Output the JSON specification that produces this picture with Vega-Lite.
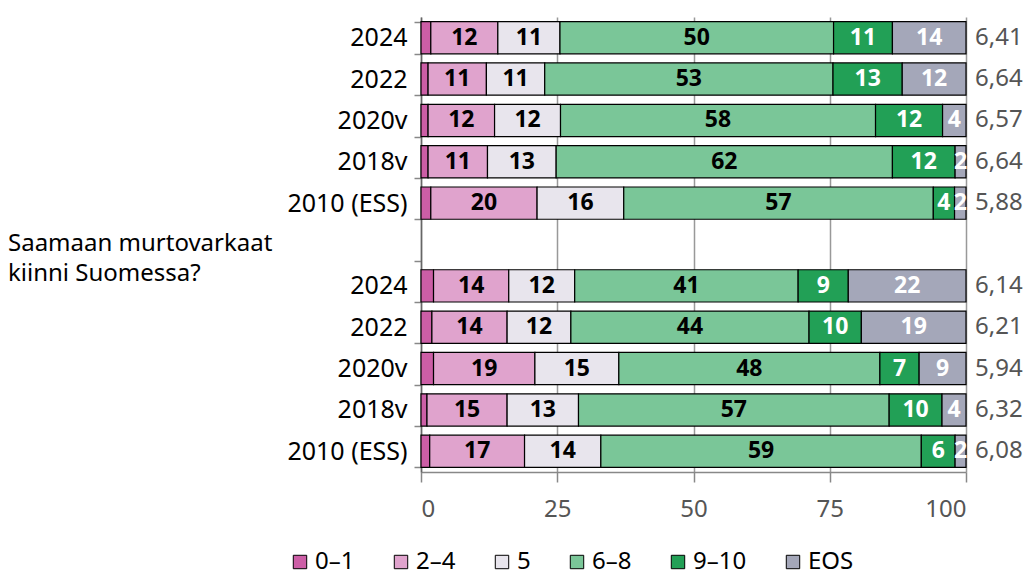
{
  "$schema": "https://vega.github.io/schema/vega-lite/v6.json",
  "width": 545,
  "height": 455,
  "autosize": {"type": "none"},
  "padding": {"left": 421, "top": 17, "right": 69, "bottom": 103},
  "background": "white",
  "config": {
    "font": "Noto Sans",
    "view": {"stroke": null}
  },
  "datasets": {
    "bars": [
      {"row": "1|2024", "cat": "0–1", "v": 1.8},
      {"row": "1|2024", "cat": "2–4", "v": 12.3},
      {"row": "1|2024", "cat": "5", "v": 11.4},
      {"row": "1|2024", "cat": "6–8", "v": 50.2},
      {"row": "1|2024", "cat": "9–10", "v": 10.8},
      {"row": "1|2024", "cat": "EOS", "v": 13.5},
      {"row": "1|2022", "cat": "0–1", "v": 1.3},
      {"row": "1|2022", "cat": "2–4", "v": 10.7},
      {"row": "1|2022", "cat": "5", "v": 10.7},
      {"row": "1|2022", "cat": "6–8", "v": 52.9},
      {"row": "1|2022", "cat": "9–10", "v": 12.7},
      {"row": "1|2022", "cat": "EOS", "v": 11.7},
      {"row": "1|2020v", "cat": "0–1", "v": 1.3},
      {"row": "1|2020v", "cat": "2–4", "v": 12.2},
      {"row": "1|2020v", "cat": "5", "v": 12.1},
      {"row": "1|2020v", "cat": "6–8", "v": 57.8},
      {"row": "1|2020v", "cat": "9–10", "v": 12.3},
      {"row": "1|2020v", "cat": "EOS", "v": 4.3},
      {"row": "1|2018v", "cat": "0–1", "v": 1.3},
      {"row": "1|2018v", "cat": "2–4", "v": 10.9},
      {"row": "1|2018v", "cat": "5", "v": 12.6},
      {"row": "1|2018v", "cat": "6–8", "v": 61.7},
      {"row": "1|2018v", "cat": "9–10", "v": 11.5},
      {"row": "1|2018v", "cat": "EOS", "v": 2.0},
      {"row": "1|2010 (ESS)", "cat": "0–1", "v": 1.8},
      {"row": "1|2010 (ESS)", "cat": "2–4", "v": 19.5},
      {"row": "1|2010 (ESS)", "cat": "5", "v": 15.9},
      {"row": "1|2010 (ESS)", "cat": "6–8", "v": 56.8},
      {"row": "1|2010 (ESS)", "cat": "9–10", "v": 3.9},
      {"row": "1|2010 (ESS)", "cat": "EOS", "v": 2.1},
      {"row": "2|2024", "cat": "0–1", "v": 2.3},
      {"row": "2|2024", "cat": "2–4", "v": 13.8},
      {"row": "2|2024", "cat": "5", "v": 12.1},
      {"row": "2|2024", "cat": "6–8", "v": 41.0},
      {"row": "2|2024", "cat": "9–10", "v": 9.2},
      {"row": "2|2024", "cat": "EOS", "v": 21.6},
      {"row": "2|2022", "cat": "0–1", "v": 2.0},
      {"row": "2|2022", "cat": "2–4", "v": 13.8},
      {"row": "2|2022", "cat": "5", "v": 11.7},
      {"row": "2|2022", "cat": "6–8", "v": 43.7},
      {"row": "2|2022", "cat": "9–10", "v": 9.6},
      {"row": "2|2022", "cat": "EOS", "v": 19.2},
      {"row": "2|2020v", "cat": "0–1", "v": 2.3},
      {"row": "2|2020v", "cat": "2–4", "v": 18.6},
      {"row": "2|2020v", "cat": "5", "v": 15.4},
      {"row": "2|2020v", "cat": "6–8", "v": 47.9},
      {"row": "2|2020v", "cat": "9–10", "v": 7.2},
      {"row": "2|2020v", "cat": "EOS", "v": 8.6},
      {"row": "2|2018v", "cat": "0–1", "v": 1.1},
      {"row": "2|2018v", "cat": "2–4", "v": 14.7},
      {"row": "2|2018v", "cat": "5", "v": 13.1},
      {"row": "2|2018v", "cat": "6–8", "v": 57.0},
      {"row": "2|2018v", "cat": "9–10", "v": 9.7},
      {"row": "2|2018v", "cat": "EOS", "v": 4.4},
      {"row": "2|2010 (ESS)", "cat": "0–1", "v": 1.6},
      {"row": "2|2010 (ESS)", "cat": "2–4", "v": 17.4},
      {"row": "2|2010 (ESS)", "cat": "5", "v": 14.0},
      {"row": "2|2010 (ESS)", "cat": "6–8", "v": 58.8},
      {"row": "2|2010 (ESS)", "cat": "9–10", "v": 6.2},
      {"row": "2|2010 (ESS)", "cat": "EOS", "v": 2.0}
    ],
    "means": [
      {"row": "1|2024", "m": "6,41"},
      {"row": "1|2022", "m": "6,64"},
      {"row": "1|2020v", "m": "6,57"},
      {"row": "1|2018v", "m": "6,64"},
      {"row": "1|2010 (ESS)", "m": "5,88"},
      {"row": "2|2024", "m": "6,14"},
      {"row": "2|2022", "m": "6,21"},
      {"row": "2|2020v", "m": "5,94"},
      {"row": "2|2018v", "m": "6,32"},
      {"row": "2|2010 (ESS)", "m": "6,08"}
    ],
    "q1": [{"row": "gap", "q": "Saamaan murtovarkaat"}],
    "q2": [{"row": "gap", "q": "kiinni Suomessa?"}]
  },
  "encoding": {
    "y": {
      "field": "row",
      "type": "nominal",
      "scale": {
        "domain": ["1|2024", "1|2022", "1|2020v", "1|2018v", "1|2010 (ESS)", "gap", "2|2024", "2|2022", "2|2020v", "2|2018v", "2|2010 (ESS)"],
        "paddingInner": 0.22,
        "paddingOuter": 0.11
      },
      "axis": {
        "title": null,
        "labelExpr": "indexof(datum.label, '|') >= 0 ? split(datum.label, '|')[1] : ''",
        "labelFontSize": 25,
        "labelColor": "#000000",
        "labelPadding": 7,
        "tickBand": "extent",
        "tickSize": 7,
        "tickColor": "#888888",
        "tickWidth": 1.5,
        "domainColor": "#666666",
        "domainWidth": 1.5
      }
    }
  },
  "layer": [
    {
      "data": {"name": "bars"},
      "transform": [
        {"stack": "v", "groupby": ["row"], "sort": [{"field": "cat", "order": "ascending"}], "as": ["x0", "x1"]}
      ],
      "layer": [
        {
          "mark": {"type": "bar", "stroke": "#000000", "strokeWidth": 1.2},
          "encoding": {
            "x": {
              "field": "x0",
              "type": "quantitative",
              "scale": {"domain": [0, 100], "nice": false},
              "axis": {
                "title": null,
                "values": [0, 25, 50, 75, 100],
                "labelFontSize": 24,
                "labelColor": "#555555",
                "labelPadding": 15,
                "tickSize": 10,
                "tickColor": "#888888",
                "tickWidth": 1.5,
                "domainColor": "#888888",
                "domainWidth": 1.5,
                "grid": true,
                "gridColor": "#999999",
                "gridWidth": 1.5
              }
            },
            "x2": {"field": "x1"},
            "color": {
              "field": "cat",
              "type": "nominal",
              "scale": {
                "domain": ["0–1", "2–4", "5", "6–8", "9–10", "EOS"],
                "range": ["#cc5ea6", "#e0a3cd", "#e8e5ed", "#7ac698", "#22a056", "#a4a7b9"]
              },
              "legend": {
                "title": null,
                "orient": "none",
                "direction": "horizontal",
                "legendX": -133,
                "legendY": 533,
                "symbolType": "square",
                "symbolSize": 180,
                "symbolStrokeColor": "#000000",
                "symbolStrokeWidth": 1,
                "symbolOpacity": 1,
                "labelFontSize": 24,
                "labelColor": "#000000",
                "labelOffset": 3,
                "columnPadding": 34
              }
            }
          }
        },
        {
          "transform": [
            {"filter": "datum.cat !== '0–1'"},
            {"calculate": "(datum.x0 + datum.x1) / 2", "as": "xm"}
          ],
          "mark": {"type": "text", "fontWeight": "bold", "fontSize": 23, "baseline": "middle", "align": "center"},
          "encoding": {
            "x": {"field": "xm", "type": "quantitative"},
            "text": {"field": "v", "type": "quantitative", "format": ".0f"},
            "color": {
              "condition": {"test": "datum.cat === '9–10' || datum.cat === 'EOS'", "value": "#ffffff"},
              "value": "#000000"
            }
          }
        }
      ]
    },
    {
      "data": {"name": "means"},
      "mark": {"type": "text", "align": "left", "baseline": "middle", "dx": 9, "fontSize": 24, "color": "#555555"},
      "encoding": {
        "x": {"datum": 100, "type": "quantitative"},
        "text": {"field": "m"}
      }
    },
    {
      "data": {"name": "q1"},
      "mark": {"type": "text", "align": "left", "baseline": "middle", "dx": -413, "dy": -1, "fontSize": 24, "color": "#000000"},
      "encoding": {
        "x": {"datum": 0, "type": "quantitative"},
        "text": {"field": "q"}
      }
    },
    {
      "data": {"name": "q2"},
      "mark": {"type": "text", "align": "left", "baseline": "middle", "dx": -413, "dy": 29, "fontSize": 24, "color": "#000000"},
      "encoding": {
        "x": {"datum": 0, "type": "quantitative"},
        "text": {"field": "q"}
      }
    }
  ]
}
